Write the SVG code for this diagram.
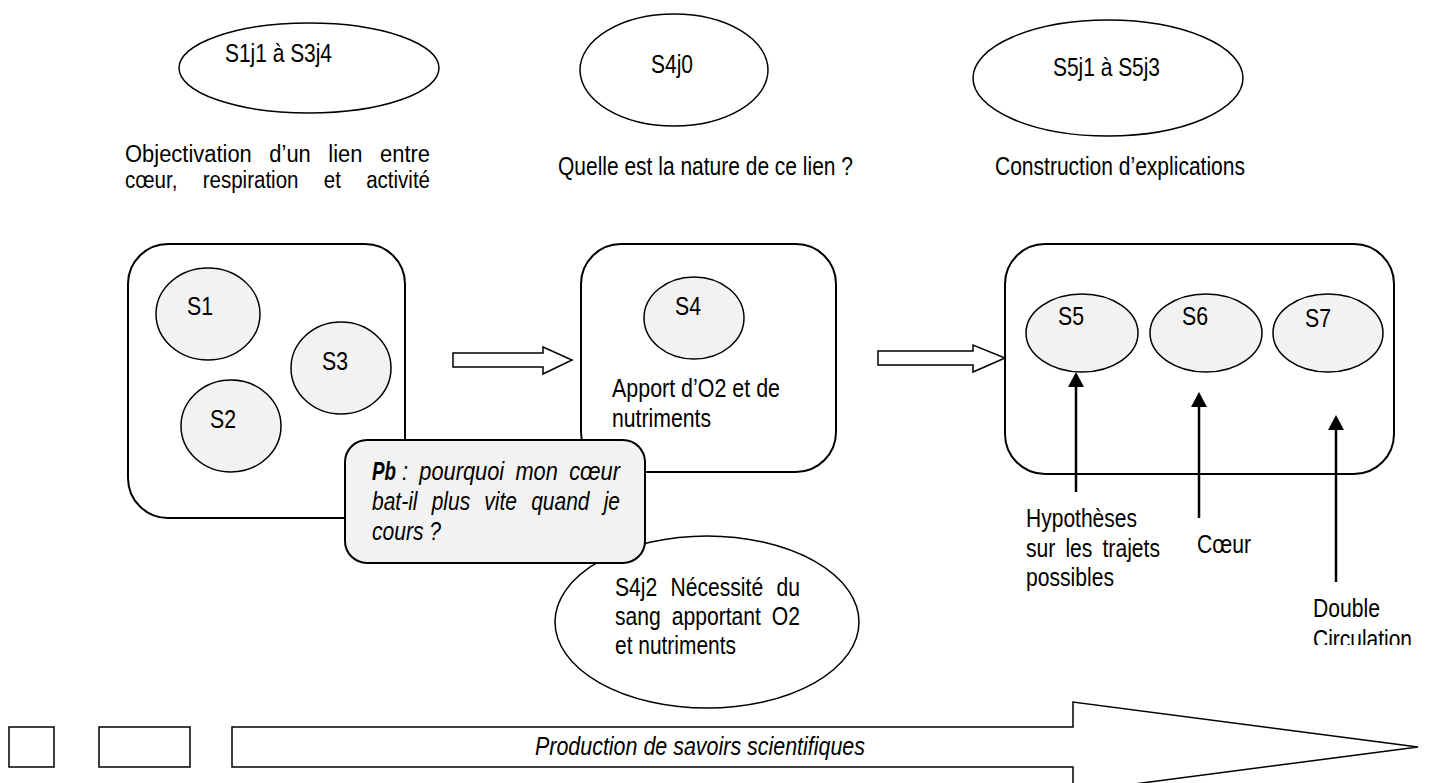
<svg xmlns="http://www.w3.org/2000/svg" width="1432" height="783" viewBox="0 0 1432 783">
<style>
.t{font-family:"Liberation Sans",Arial,sans-serif;font-size:25px;fill:#000}
.s{font-size:23px}
.it{font-style:italic}
.b{font-weight:bold}
.ol{fill:#fff;stroke:#000;stroke-width:1.5}
.box{fill:#fff;stroke:#000;stroke-width:2}
.sess{fill:#f2f2f2;stroke:#000;stroke-width:1.5}
.pb{fill:#f2f2f2;stroke:#000;stroke-width:2}
.hollow{fill:#fff;stroke:#000;stroke-width:1.5}
.link{fill:none;stroke:#000;stroke-width:2.5}
</style>
<defs>
<marker id="tri" viewBox="0 0 16 15" refX="8" refY="15" markerWidth="16" markerHeight="15" markerUnits="userSpaceOnUse" orient="0">
<path d="M8,0 L16,15 L0,15 Z" fill="#000"/>
</marker>
<clipPath id="clipCirc"><rect x="1300" y="600" width="132" height="45"/></clipPath>
</defs>

<g id="period1">
<ellipse class="ol" cx="309" cy="68" rx="130" ry="45"/>
<text class="t" x="225" y="62" textLength="107" lengthAdjust="spacingAndGlyphs">S1j1 à S3j4</text>
</g>
<g id="period2">
<ellipse class="ol" cx="674" cy="70" rx="94" ry="56"/>
<text class="t" x="651" y="73" textLength="42" lengthAdjust="spacingAndGlyphs">S4j0</text>
</g>
<g id="period3">
<ellipse class="ol" cx="1108" cy="78" rx="135" ry="58"/>
<text class="t" x="1053" y="76" textLength="107" lengthAdjust="spacingAndGlyphs">S5j1 à S5j3</text>
</g>

<g id="caption1">
<text class="t s" x="125" y="162" textLength="305" lengthAdjust="spacingAndGlyphs" style="word-spacing:12px">Objectivation d’un lien entre</text>
<text class="t s" x="125" y="188" textLength="305" lengthAdjust="spacingAndGlyphs" style="word-spacing:22px">cœur, respiration et activité</text>
</g>
<g id="caption2">
<text class="t" x="558" y="175" textLength="295" lengthAdjust="spacingAndGlyphs">Quelle est la nature de ce lien ?</text>
</g>
<g id="caption3">
<text class="t" x="995" y="175" textLength="250" lengthAdjust="spacingAndGlyphs">Construction d’explications</text>
</g>

<g id="phase1">
<rect class="box" x="128" y="244" width="277" height="274" rx="40" ry="40"/>
<g id="S1"><ellipse class="sess" cx="208" cy="314" rx="52" ry="46"/><text class="t" x="187" y="315" textLength="26" lengthAdjust="spacingAndGlyphs">S1</text></g>
<g id="S3"><ellipse class="sess" cx="341" cy="368" rx="50" ry="46"/><text class="t" x="322" y="370" textLength="26" lengthAdjust="spacingAndGlyphs">S3</text></g>
<g id="S2"><ellipse class="sess" cx="231" cy="426" rx="50" ry="46"/><text class="t" x="210" y="428" textLength="26" lengthAdjust="spacingAndGlyphs">S2</text></g>
</g>

<g id="phase2">
<rect class="box" x="581" y="244" width="255" height="228" rx="40" ry="40"/>
<g id="S4"><ellipse class="sess" cx="694" cy="318" rx="50" ry="41"/><text class="t" x="675" y="315" textLength="26" lengthAdjust="spacingAndGlyphs">S4</text></g>
<text class="t" x="612" y="397" textLength="168" lengthAdjust="spacingAndGlyphs">Apport d’O2 et de</text>
<text class="t" x="612" y="427" textLength="99" lengthAdjust="spacingAndGlyphs">nutriments</text>
</g>

<g id="phase3">
<rect class="box" x="1005" y="244" width="389" height="230" rx="40" ry="40"/>
<g id="S5"><ellipse class="sess" cx="1082" cy="333" rx="56" ry="39"/><text class="t" x="1058" y="325" textLength="26" lengthAdjust="spacingAndGlyphs">S5</text></g>
<g id="S6"><ellipse class="sess" cx="1206" cy="333" rx="56" ry="39"/><text class="t" x="1182" y="325" textLength="26" lengthAdjust="spacingAndGlyphs">S6</text></g>
<g id="S7"><ellipse class="sess" cx="1328" cy="333" rx="55" ry="39"/><text class="t" x="1305" y="327" textLength="26" lengthAdjust="spacingAndGlyphs">S7</text></g>
</g>

<g id="S4j2">
<ellipse class="ol" cx="707" cy="622" rx="152" ry="86"/>
<text class="t" x="615" y="596" textLength="185" lengthAdjust="spacingAndGlyphs" style="word-spacing:9px">S4j2 Nécessité du</text>
<text class="t" x="615" y="625" textLength="185" lengthAdjust="spacingAndGlyphs" style="word-spacing:6px">sang apportant O2</text>
<text class="t" x="615" y="654" textLength="121" lengthAdjust="spacingAndGlyphs">et nutriments</text>
</g>

<g id="problem">
<rect class="pb" x="345" y="440" width="300" height="123" rx="22" ry="22"/>
<text class="t it b" x="372" y="480" textLength="24" lengthAdjust="spacingAndGlyphs">Pb</text>
<text class="t it" x="402" y="480" textLength="218" lengthAdjust="spacingAndGlyphs" style="word-spacing:6px">: pourquoi mon cœur</text>
<text class="t it" x="372" y="510" textLength="248" lengthAdjust="spacingAndGlyphs" style="word-spacing:10px">bat-il plus vite quand je</text>
<text class="t it" x="372" y="540" textLength="69" lengthAdjust="spacingAndGlyphs">cours ?</text>
</g>

<g id="note-hypotheses">
<text class="t" x="1026" y="527" textLength="111" lengthAdjust="spacingAndGlyphs">Hypothèses</text>
<text class="t" x="1026" y="557" textLength="134" lengthAdjust="spacingAndGlyphs" style="word-spacing:5px">sur les trajets</text>
<text class="t" x="1026" y="586" textLength="88" lengthAdjust="spacingAndGlyphs">possibles</text>
</g>
<g id="note-coeur">
<text class="t" x="1197" y="553" textLength="54" lengthAdjust="spacingAndGlyphs">Cœur</text>
</g>
<g id="note-double">
<text class="t" x="1313" y="617" textLength="67" lengthAdjust="spacingAndGlyphs">Double</text>
<text class="t" x="1313" y="648" textLength="99" lengthAdjust="spacingAndGlyphs" clip-path="url(#clipCirc)">Circulation</text>
</g>

<g id="connectors">
<path class="hollow" d="M453,353 H543 V347 L572,360 L543,374 V367 H453 Z"/>
<path class="hollow" d="M878,351 H973 V345 L1005,358 L973,372 V365 H878 Z"/>
<path class="link" d="M1076,492 V387" marker-end="url(#tri)"/>
<path class="link" d="M1199,518 V407" marker-end="url(#tri)"/>
<path class="link" d="M1336,582 V430" marker-end="url(#tri)"/>
</g>

<g id="timeline">
<rect class="hollow" x="9" y="727" width="45" height="40"/>
<rect class="hollow" x="99" y="727" width="91" height="40"/>
<path class="hollow" d="M232,727 H1073 V702 L1418,747 L1073,792 V767 H232 Z"/>
<text class="t it" x="535" y="755" textLength="330" lengthAdjust="spacingAndGlyphs">Production de savoirs scientifiques</text>
</g>
</svg>
